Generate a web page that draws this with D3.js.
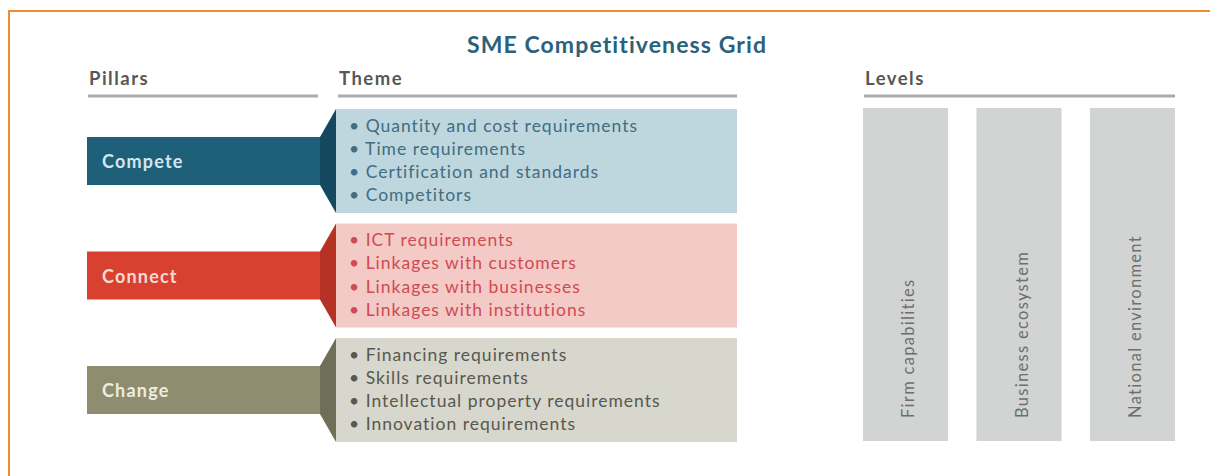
<!DOCTYPE html>
<html>
<head>
<meta charset="utf-8">
<script src="https://cdn.jsdelivr.net/npm/d3@7"></script>
<style>
  body { margin: 0; background: #fff; }
  svg { display: block; font-family: Lato, "Open Sans", sans-serif; }
</style>
</head>
<body>
<svg id="chart"></svg>
<script>
// pillars and their themes
const pillars = ["Compete", "Connect", "Change"];
const competeThemes = ["Quantity and cost requirements", "Time requirements", "Certification and standards", "Competitors"];
const connectThemes = ["ICT requirements", "Linkages with customers", "Linkages with businesses", "Linkages with institutions"];
const changeThemes = ["Financing requirements", "Skills requirements", "Intellectual property requirements", "Innovation requirements"];
const levels = ["Firm capabilities", "Business ecosystem", "National environment"];
const headers = ["Pillars", "Theme", "Levels"];

const themes = { Compete: competeThemes, Connect: connectThemes, Change: changeThemes };

// colours per pillar
const barColor = d3.scaleOrdinal().domain(pillars).range(["#1e6079", "#d8412f", "#8f8d70"]);
const notchColor = d3.scaleOrdinal().domain(pillars).range(["#15475e", "#b63225", "#6f6e57"]);
const boxColor = d3.scaleOrdinal().domain(pillars).range(["#bed6de", "#f4cac6", "#d7d7cd"]);
const textColor = d3.scaleOrdinal().domain(pillars).range(["#416d82", "#cf4b52", "#58584f"]);
const labelColor = d3.scaleOrdinal().domain(pillars).range(["#d3e6ed", "#f6dbd5", "#ececdf"]);

const width = 1210, height = 476;

const svg = d3.select("#chart")
  .attr("width", width)
  .attr("height", height);

// orange frame (top and left edges)
svg.append("path")
  .attr("d", `M9,476 V11 H${width}`)
  .attr("fill", "none")
  .attr("stroke", "#f28a2e")
  .attr("stroke-width", 2);

svg.append("text")
  .attr("x", 617)
  .attr("y", 53)
  .attr("text-anchor", "middle")
  .attr("font-size", 23)
  .attr("font-weight", 700)
  .attr("letter-spacing", 1.1)
  .attr("fill", "#2a617b")
  .text("SME Competitiveness Grid");

// column headers
const cols = { Pillars: [88, 318], Theme: [338, 737], Levels: [864, 1175] };
const head = svg.selectAll(".head")
  .data(headers)
  .enter()
  .append("g")
  .attr("class", "head");

head.append("text")
  .attr("x", d => cols[d][0] + 1)
  .attr("y", 85)
  .attr("font-size", 18.5)
  .attr("font-weight", 700)
  .attr("letter-spacing", 1.5)
  .attr("fill", "#575757")
  .text(d => d);

head.append("line")
  .attr("x1", d => cols[d][0])
  .attr("x2", d => cols[d][1])
  .attr("y1", 96)
  .attr("y2", 96)
  .attr("stroke", "#ababab")
  .attr("stroke-width", 3);

// rows
const yScale = d3.scaleBand()
  .domain(pillars)
  .range([109, 442])
  .paddingInner(0.092);

const bh = yScale.bandwidth();
const barH = 48;
const boxX = 336, boxR = 737, barX = 87, barR = 320;

const rows = svg.selectAll(".row")
  .data(pillars)
  .enter()
  .append("g")
  .attr("class", "row")
  .attr("transform", d => `translate(0,${yScale(d)})`);

rows.append("rect")
  .attr("x", boxX)
  .attr("y", 0)
  .attr("width", boxR - boxX)
  .attr("height", bh)
  .attr("fill", d => boxColor(d));

rows.append("rect")
  .attr("x", barX)
  .attr("y", (bh - barH) / 2)
  .attr("width", barR - barX)
  .attr("height", barH)
  .attr("fill", d => barColor(d));

rows.append("path")
  .attr("d", `M${barR},${(bh - barH) / 2} L${boxX},0 V${bh} L${barR},${(bh + barH) / 2} Z`)
  .attr("fill", d => notchColor(d));

rows.append("text")
  .attr("x", barX + 15)
  .attr("y", bh / 2 + 1)
  .attr("dy", "0.35em")
  .attr("font-size", 18)
  .attr("font-weight", 700)
  .attr("letter-spacing", 1.2)
  .attr("fill", d => labelColor(d))
  .text(d => d);

// bullet lines inside each theme box
const lineScale = d3.scaleBand()
  .domain(d3.range(4))
  .range([5, bh - 6]);

rows.each(function(p) {
  d3.select(this).selectAll(".item")
    .data(themes[p])
    .enter()
    .append("text")
    .attr("class", "item")
    .attr("x", 349)
    .attr("y", (d, i) => lineScale(i) + lineScale.bandwidth() / 2)
    .attr("dy", "0.35em")
    .attr("font-size", 17.5)
    .attr("letter-spacing", 1)
    .attr("fill", textColor(p))
    .text(d => "\u2022 " + d);
});

// levels
const xLevel = d3.scaleBand()
  .domain(levels)
  .range([863, 1175])
  .paddingInner(0.25);

const lv = svg.selectAll(".level")
  .data(levels)
  .enter()
  .append("g")
  .attr("class", "level");

lv.append("rect")
  .attr("x", d => xLevel(d))
  .attr("y", 108)
  .attr("width", xLevel.bandwidth())
  .attr("height", 441 - 108)
  .attr("fill", "#d1d4d3");

lv.append("text")
  .attr("transform", d => `translate(${xLevel(d) + xLevel.bandwidth() / 2 + 3},418) rotate(-90)`)
  .attr("dy", "0.35em")
  .attr("font-size", 16.5)
  .attr("letter-spacing", 1.3)
  .attr("fill", "#6e6e6e")
  .text(d => d);
</script>
</body>
</html>
